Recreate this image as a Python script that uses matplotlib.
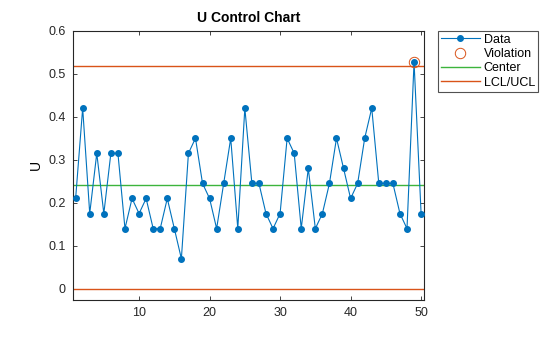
import matplotlib
matplotlib.use("Agg")
import matplotlib.pyplot as plt

plt.rcParams["font.family"] = ["Liberation Sans", "DejaVu Sans"]

# sample index and U values
samples = list(range(1, 51))
u_values = [
    0.21, 0.42, 0.175, 0.315, 0.175, 0.315, 0.315, 0.14, 0.21, 0.175,
    0.21, 0.14, 0.14, 0.21, 0.14, 0.07, 0.315, 0.35, 0.245, 0.21,
    0.14, 0.245, 0.35, 0.14, 0.42, 0.245, 0.245, 0.175, 0.14, 0.175,
    0.35, 0.315, 0.14, 0.28, 0.14, 0.175, 0.245, 0.35, 0.28, 0.21,
    0.245, 0.35, 0.42, 0.245, 0.245, 0.245, 0.175, 0.14, 0.527, 0.175,
]
violation_x = [49]
violation_y = [0.527]
center = 0.2405
lcl = 0.0
ucl = 0.517

x_ticks = [10, 20, 30, 40, 50]
y_ticks = [0, 0.1, 0.2, 0.3, 0.4, 0.5, 0.6]

blue = "#0072BD"
orange = "#D95319"
green = "#3CB43C"

fig = plt.figure(figsize=(5.6, 3.37), dpi=100)
ax = fig.add_axes([0.130, 0.111, 0.627, 0.798])

ax.plot(samples, u_values, color=blue, linewidth=0.8, marker="o",
        markersize=4, markerfacecolor=blue, markeredgecolor=blue, label="Data", zorder=3)
ax.plot(violation_x, violation_y, linestyle="none", marker="o", markersize=7.5,
        markerfacecolor="none", markeredgecolor=orange, markeredgewidth=0.7,
        label="Violation", zorder=4)
ax.axhline(center, color=green, linewidth=1.0, label="Center", zorder=2)
ax.axhline(ucl, color=orange, linewidth=1.0, label="LCL/UCL", zorder=2)
ax.axhline(lcl, color=orange, linewidth=1.0, zorder=2)

ax.set_xlim(0.6, 50.4)
ax.set_ylim(-0.025, 0.6)
ax.set_xticks(x_ticks)
ax.set_yticks(y_ticks)
ax.set_yticklabels(["0", "0.1", "0.2", "0.3", "0.4", "0.5", "0.6"])
ax.tick_params(direction="in", length=3, labelsize=9, width=0.6, pad=5,
               top=True, right=True, colors="#262626")
for spine in ax.spines.values():
    spine.set_linewidth(0.8)
    spine.set_color("#262626")

ax.set_ylabel("U", fontsize=10)
ax.set_title("U Control Chart", fontsize=10, fontweight="bold")

leg = ax.legend(loc="upper left", bbox_to_anchor=(1.04, 1.0), fontsize=9,
                frameon=True, fancybox=False, edgecolor="#262626",
                borderpad=0.25, labelspacing=0.18, handlelength=3.1,
                handletextpad=0.3, borderaxespad=0)
leg.get_frame().set_linewidth(0.8)

fig.savefig("out.png", dpi=100)
